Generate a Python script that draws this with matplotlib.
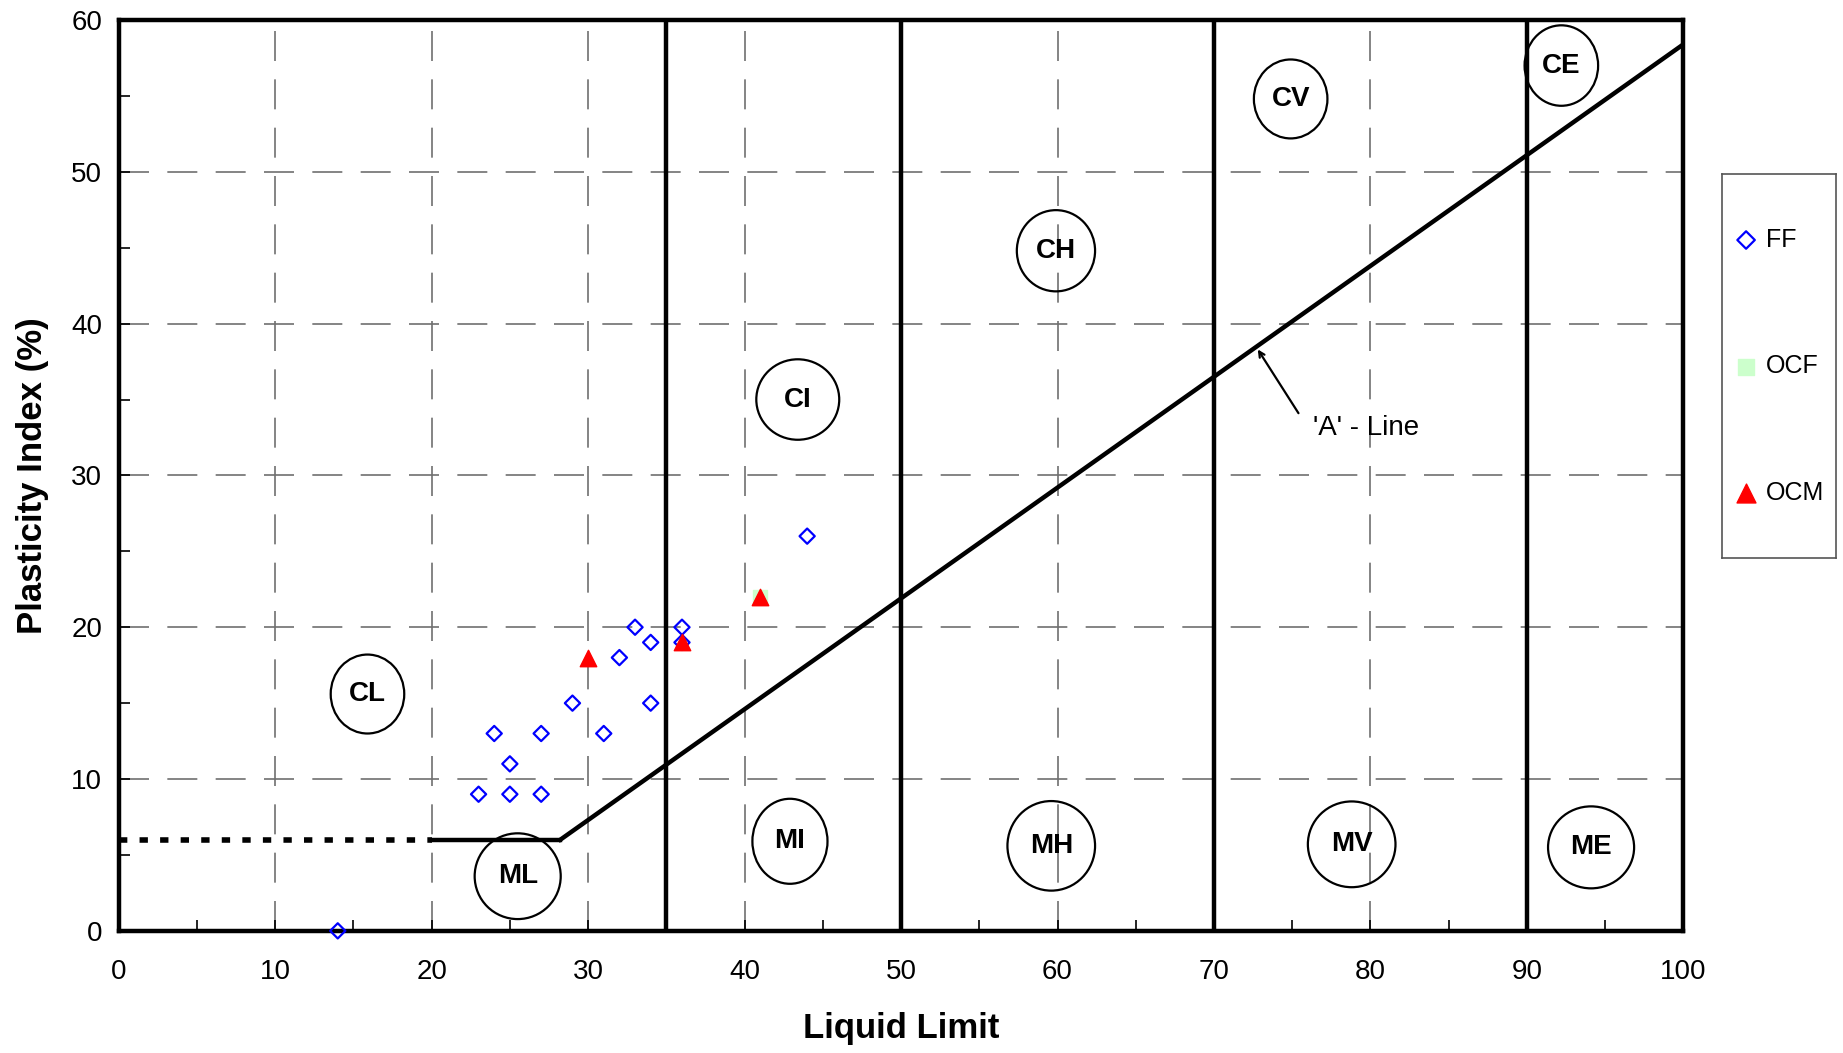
import matplotlib.pyplot as plt
from matplotlib.patches import Ellipse
import numpy as np

plt.rcParams['font.family'] = ['Liberation Sans', 'DejaVu Sans']

# Data
ff_ll = [14, 23, 24, 25, 25, 27, 27, 29, 31, 32, 33, 34, 34, 36, 36, 44]
ff_pi = [0, 9, 13, 11, 9, 13, 9, 15, 13, 18, 20, 19, 15, 20, 19, 26]
ocf_ll = [41]
ocf_pi = [22]
ocm_ll = [30, 36, 41]
ocm_pi = [18, 19, 22]

# zone boundaries and labels
zone_bounds = [35, 50, 70, 90]
zone_names = ['CL', 'ML', 'CI', 'MI', 'CH', 'MH', 'CV', 'MV', 'CE', 'ME']
zone_ll = [15.9, 25.5, 43.4, 42.9, 59.9, 59.6, 74.9, 78.8, 92.2, 94.1]
zone_pi = [15.6, 3.6, 35.0, 5.9, 44.8, 5.6, 54.8, 5.7, 57.0, 5.5]
# circle sizes (width in LL units, height in PI units)
circ_w = [4.7, 5.5, 5.3, 4.8, 5.0, 5.6, 4.7, 5.6, 4.7, 5.5]
circ_h = [5.2, 5.65, 5.3, 5.6, 5.35, 5.9, 5.2, 5.65, 5.3, 5.4]

fig = plt.figure(figsize=(18.43, 10.53), dpi=100)
ax = fig.add_axes([0.0644, 0.116, 0.849, 0.865])

# grid
ax.set_xlim(0, 100)
ax.set_ylim(0, 60)
ax.set_xticks(np.arange(0, 101, 10))
ax.set_yticks(np.arange(0, 61, 10))
ax.set_xticks(np.arange(5, 100, 10), minor=True)
ax.set_yticks(np.arange(5, 60, 10), minor=True)
ax.grid(True, which='major', color='#707070', linestyle=(0, (18, 11)), linewidth=1.2)
ax.tick_params(which='both', direction='in', labelsize=20, width=1.2)
ax.tick_params(which='major', length=8, pad=20)
ax.tick_params(which='minor', length=8)
ax.tick_params(axis='y', pad=12)
for s in ax.spines.values():
    s.set_linewidth(3.2)

# zone boundaries
for b in zone_bounds:
    ax.axvline(b, color='black', linewidth=3.2, zorder=3)

# A-line
a_x = np.array([20 + 6 / 0.73, 100])
ax.plot(a_x, 0.73 * (a_x - 20), color='black', linewidth=3.2, zorder=3)
ax.plot([20, 20 + 6 / 0.73], [6, 6], color='black', linewidth=3.2, zorder=3)
ax.plot([0, 20], [6, 6], color='black', linewidth=4, linestyle=(0, (1.5, 2.2)), zorder=3)

# zone circles
for name, x, y, w, h in zip(zone_names, zone_ll, zone_pi, circ_w, circ_h):
    ax.add_patch(Ellipse((x, y), w, h, fill=False, edgecolor='black', linewidth=1.6, zorder=4))
    ax.text(x, y, name, ha='center', va='center', fontsize=20, fontweight='bold', zorder=5)

# data
ax.scatter(ff_ll, ff_pi, marker='D', s=60, facecolors='none', edgecolors='blue', linewidths=1.6, zorder=6, label='FF', clip_on=False)
ax.scatter(ocf_ll, ocf_pi, marker='s', s=110, color='#ccffcc', zorder=6, label='OCF')
ax.scatter(ocm_ll, ocm_pi, marker='^', s=140, color='red', zorder=7, label='OCM')

ax.annotate('', xy=(72.8, 38.3), xytext=(75.4, 34.1),
            arrowprops=dict(arrowstyle='->', color='black', lw=1.6, shrinkA=0, shrinkB=0))
ax.text(76.3, 33.1, "'A' - Line", fontsize=20, ha='left', va='center')

ax.set_xlabel('Liquid Limit', fontsize=25, fontweight='bold', labelpad=20)
ax.set_ylabel('Plasticity Index (%)', fontsize=25, fontweight='bold', labelpad=16)

# legend in its own framed box
lax = fig.add_axes([0.9343, 0.470, 0.0619, 0.3647])
lax.set_xticks([])
lax.set_yticks([])
for s in lax.spines.values():
    s.set_edgecolor('#555555')
    s.set_linewidth(1.2)
handles, labels = ax.get_legend_handles_labels()
lax.legend(handles, labels, loc='center', fontsize=18, frameon=False, markerscale=1.15,
           labelspacing=4.1, handletextpad=0.3, handlelength=1.0, borderpad=0)

fig.savefig('out.png', dpi=100)
